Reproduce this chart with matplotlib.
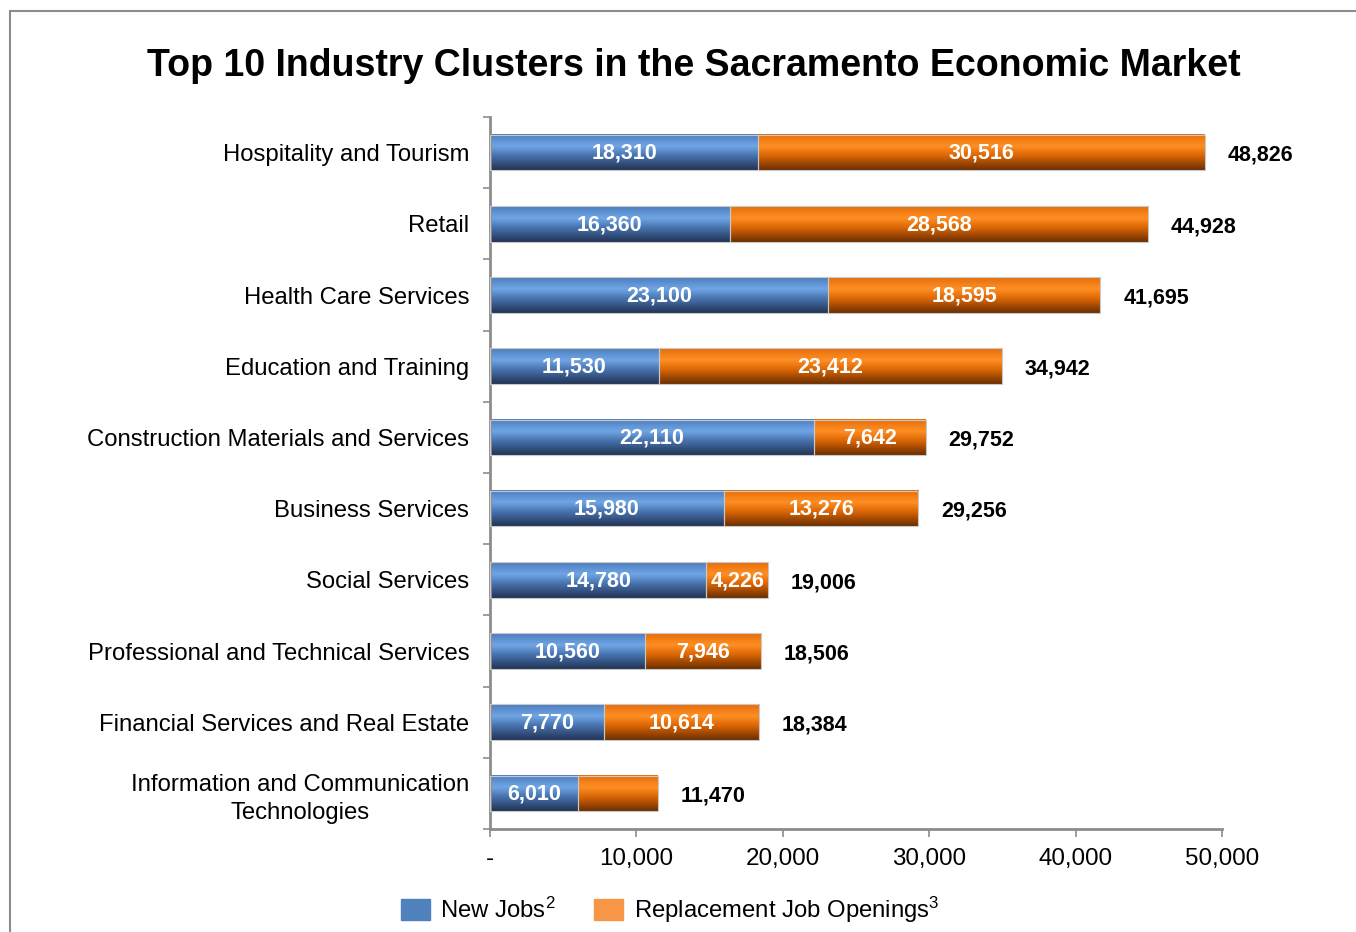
import numpy as np
import matplotlib
matplotlib.use("Agg")
import matplotlib.pyplot as plt
from matplotlib.patches import Rectangle, Patch
from matplotlib.colors import LinearSegmentedColormap

plt.rcParams['font.family'] = ['Liberation Sans', 'DejaVu Sans']
plt.rcParams['mathtext.fontset'] = 'custom'
plt.rcParams['mathtext.rm'] = 'Liberation Sans'
plt.rcParams['mathtext.it'] = 'Liberation Sans'
plt.rcParams['mathtext.bf'] = 'Liberation Sans:bold'

categories = [
    "Hospitality and Tourism",
    "Retail",
    "Health Care Services",
    "Education and Training",
    "Construction Materials and Services",
    "Business Services",
    "Social Services",
    "Professional and Technical Services",
    "Financial Services and Real Estate",
    "Information and Communication\nTechnologies",
]
new_jobs = [18310, 16360, 23100, 11530, 22110, 15980, 14780, 10560, 7770, 6010]
replacement = [30516, 28568, 18595, 23412, 7642, 13276, 4226, 7946, 10614, 5460]
totals = [48826, 44928, 41695, 34942, 29752, 29256, 19006, 18506, 18384, 11470]
show_repl_label = [True, True, True, True, True, True, True, True, True, False]
x_ticks = [0, 10000, 20000, 30000, 40000, 50000]
x_ticklabels = ["-", "10,000", "20,000", "30,000", "40,000", "50,000"]

title = "Top 10 Industry Clusters in the Sacramento Economic Market"
legend_labels = ["New Jobs$^{2}$", "Replacement Job Openings$^{3}$"]

blue_cmap = LinearSegmentedColormap.from_list(
    "b", [(0.0, (0.30, 0.49, 0.74)), (0.33, (0.44, 0.65, 0.90)),
          (0.6, (0.28, 0.45, 0.68)), (1.0, (0.13, 0.20, 0.33))])
orange_cmap = LinearSegmentedColormap.from_list(
    "o", [(0.0, (0.90, 0.43, 0.04)), (0.33, (1.0, 0.56, 0.14)),
          (0.6, (0.86, 0.40, 0.02)), (1.0, (0.42, 0.18, 0.0))])

fig = plt.figure(figsize=(13.56, 9.32), dpi=100)
ax = fig.add_axes([490/1356, 1 - 829/932, (1222-490)/1356, (829-117)/932])

# figure border
fig.patches.append(Rectangle((9.5/1356, -0.1), 1.2, 1 - 11/932 + 0.1,
                             transform=fig.transFigure, fill=False,
                             edgecolor='#8c8c8c', linewidth=1.5))

n = len(categories)
ypos = np.arange(n)[::-1]
h = 0.5
grad = np.linspace(0, 1, 128).reshape(-1, 1)

for i in range(n):
    y = ypos[i]
    segs = [(0, new_jobs[i], blue_cmap), (new_jobs[i], replacement[i], orange_cmap)]
    for left, width, cmap in segs:
        ax.imshow(grad, cmap=cmap, aspect='auto', origin='upper',
                  extent=(left, left + width, y - h/2, y + h/2), zorder=2,
                  interpolation='bilinear')
        ax.barh(y, width, left=left, height=h, facecolor='none',
                edgecolor='#c8c8c8', linewidth=0.8, zorder=3)
    ax.text(new_jobs[i] / 2, y - 0.01, f"{new_jobs[i]:,}", color='white',
            fontsize=15.5, fontweight='bold', ha='center', va='center', zorder=4)
    if show_repl_label[i]:
        ax.text(new_jobs[i] + replacement[i] / 2, y - 0.01, f"{replacement[i]:,}",
                color='white', fontsize=15.5, fontweight='bold',
                ha='center', va='center', zorder=4)
    ax.text(totals[i] + 3800, y - 0.04, f"{totals[i]:,}", color='black',
            fontsize=15.5, fontweight='bold', ha='center', va='center', zorder=4)

ax.set_xlim(0, 50000)
ax.set_ylim(-0.5, n - 0.5)

ax.set_yticks(ypos)
ax.set_yticklabels(categories, fontsize=17.2)
for lbl in ax.get_yticklabels():
    lbl.set_multialignment('center')
    lbl.set_linespacing(1.35)
ax.set_yticks(np.arange(-0.5, n, 1.0), minor=True)
ax.tick_params(axis='y', which='major', length=0, pad=15)
ax.tick_params(axis='y', which='minor', length=5, width=1.2, color='#8c8c8c',
               direction='out')

ax.set_xticks(x_ticks)
ax.set_xticklabels(x_ticklabels, fontsize=17.4)
ax.tick_params(axis='x', which='major', length=6, width=1.2, color='#8c8c8c',
               direction='out', pad=8)

for s in ['top', 'right']:
    ax.spines[s].set_visible(False)
for s in ['left', 'bottom']:
    ax.spines[s].set_color('#8c8c8c')
    ax.spines[s].set_linewidth(2)

fig.text(694/1356, 1 - 66/932, title, fontsize=27, fontweight='bold',
         ha='center', va='center')

handles = [Patch(facecolor='#4f81bd', edgecolor='#4f81bd'),
           Patch(facecolor='#f79646', edgecolor='#f79646')]
fig.legend(handles, legend_labels, loc='center', ncol=2,
           bbox_to_anchor=(670/1356, 1 - 910/932), frameon=False,
           fontsize=17.2, handlelength=1.2, handleheight=0.95,
           handletextpad=0.45, columnspacing=1.6)

fig.savefig("out.png", dpi=100)
